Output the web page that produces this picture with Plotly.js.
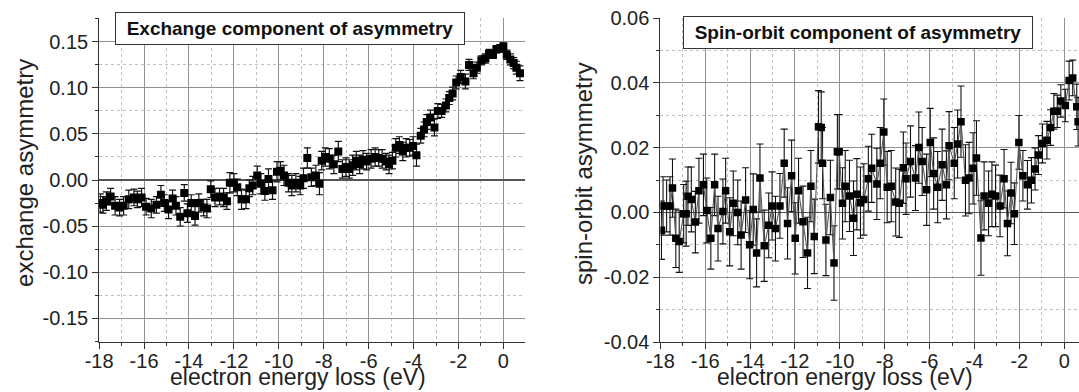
<!DOCTYPE html>
<html><head><meta charset="utf-8">
<script src="https://cdn.plot.ly/plotly-3.0.1.min.js"></script>
<style>html,body{margin:0;padding:0;background:#fff}</style>
</head><body><div id="chart" style="width:1079px;height:392px"></div>
<script>
// ---- Left panel: exchange component of asymmetry ----
const exchangeEnergy = [-17.95,-17.83,-17.68,-17.49,-17.29,-17.09,-16.91,-16.68,-16.45,-16.30,
 -16.11,-15.91,-15.68,-15.45,-15.25,-15.10,-14.91,-14.73,-14.58,-14.39,
 -14.21,-14.07,-13.90,-13.73,-13.56,-13.35,-13.20,-13.03,-12.84,-12.64,
 -12.46,-12.31,-12.18,-12.00,-11.85,-11.66,-11.46,-11.31,-11.16,-10.96,
 -10.80,-10.62,-10.46,-10.28,-10.08,-9.93,-9.77,-9.57,-9.42,-9.24,
 -9.05,-8.90,-8.73,-8.55,-8.35,-8.19,-8.09,-7.93,-7.75,-7.55,
 -7.35,-7.17,-7.01,-6.86,-6.71,-6.55,-6.40,-6.25,-6.09,-5.89,
 -5.71,-5.55,-5.40,-5.22,-5.09,-4.94,-4.79,-4.63,-4.48,-4.33,
 -4.17,-4.02,-3.87,-3.68,-3.53,-3.41,-3.25,-3.07,-2.92,-2.75,
 -2.56,-2.41,-2.26,-2.10,-1.90,-1.69,-1.53,-1.33,-1.18,-0.98,
 -0.80,-0.64,-0.46,-0.31,-0.15,0.00,0.15,0.31,0.46,0.58,
 0.74];
const exchangeAsym = [-0.025,-0.027,-0.023,-0.018,-0.028,-0.030,-0.028,-0.021,-0.019,-0.021,
 -0.019,-0.029,-0.031,-0.027,-0.016,-0.025,-0.032,-0.020,-0.028,-0.040,
 -0.014,-0.036,-0.025,-0.039,-0.025,-0.030,-0.031,-0.010,-0.019,-0.018,
 -0.019,-0.023,-0.003,-0.003,-0.008,-0.021,-0.021,-0.009,-0.006,0.005,
 -0.004,-0.012,0.001,-0.011,0.009,0.010,0.005,-0.003,-0.006,-0.003,
 -0.006,0.002,0.024,0.003,0.005,-0.004,0.021,0.025,0.023,0.017,
 0.031,0.012,0.014,0.012,0.016,0.021,0.017,0.022,0.020,0.023,
 0.025,0.024,0.023,0.020,0.017,0.021,0.035,0.038,0.031,0.035,
 0.035,0.037,0.027,0.048,0.055,0.063,0.068,0.057,0.075,0.075,
 0.081,0.089,0.094,0.106,0.112,0.107,0.125,0.116,0.122,0.130,
 0.132,0.137,0.136,0.142,0.143,0.145,0.136,0.131,0.127,0.122,
 0.116];
const exchangeErr = [0.010,0.009,0.010,0.009,0.010,0.009,0.010,0.010,0.009,0.009,
 0.010,0.009,0.010,0.009,0.010,0.009,0.010,0.009,0.010,0.010,
 0.009,0.010,0.009,0.010,0.010,0.009,0.010,0.009,0.010,0.009,
 0.010,0.009,0.011,0.010,0.009,0.011,0.010,0.009,0.010,0.010,
 0.011,0.010,0.011,0.010,0.011,0.010,0.011,0.010,0.011,0.010,
 0.010,0.011,0.011,0.010,0.011,0.012,0.010,0.010,0.011,0.010,
 0.011,0.010,0.010,0.010,0.011,0.010,0.010,0.010,0.009,0.010,
 0.010,0.009,0.010,0.009,0.010,0.009,0.010,0.009,0.010,0.010,
 0.009,0.010,0.012,0.008,0.008,0.008,0.008,0.009,0.008,0.007,
 0.007,0.007,0.007,0.007,0.007,0.008,0.006,0.006,0.006,0.005,
 0.005,0.005,0.004,0.004,0.004,0.004,0.005,0.006,0.006,0.007,
 0.008];

// ---- Right panel: spin-orbit component of asymmetry ----
const soEnergy = [-17.95,-17.88,-17.72,-17.57,-17.46,-17.31,-17.16,-16.96,-16.85,-16.77,
 -16.62,-16.44,-16.28,-16.08,-15.93,-15.75,-15.58,-15.43,-15.21,-15.09,
 -14.91,-14.75,-14.55,-14.40,-14.20,-14.02,-13.86,-13.71,-13.56,-13.37,
 -13.17,-13.02,-12.87,-12.67,-12.48,-12.33,-12.15,-11.99,-11.84,-11.64,
 -11.44,-11.29,-11.14,-10.95,-10.83,-10.77,-10.62,-10.42,-10.26,-10.11,
 -10.03,-9.88,-9.76,-9.57,-9.39,-9.24,-9.08,-8.93,-8.73,-8.58,
 -8.35,-8.20,-8.04,-7.89,-7.71,-7.51,-7.35,-7.17,-7.05,-6.85,
 -6.63,-6.48,-6.33,-6.13,-5.97,-5.82,-5.64,-5.44,-5.25,-5.13,
 -4.90,-4.75,-4.60,-4.40,-4.24,-4.06,-3.91,-3.71,-3.57,-3.37,
 -3.22,-3.06,-2.86,-2.68,-2.53,-2.37,-2.22,-2.02,-1.84,-1.64,
 -1.46,-1.30,-1.15,-0.97,-0.77,-0.61,-0.46,-0.31,-0.15,0.05,
 0.22,0.38,0.56,0.62];
const soAsym = [-0.0055,0.0020,0.0020,0.0020,0.0075,-0.0080,-0.0090,-0.0004,-0.0004,0.0050,
 0.0040,-0.0030,0.0067,0.0085,0.0006,-0.0080,0.0085,-0.0050,0.0003,0.0067,
 -0.0060,0.0028,0.0000,-0.0070,0.0038,-0.0100,0.0009,-0.0125,0.0106,-0.0103,
 -0.0040,0.0020,-0.0050,0.0020,0.0152,-0.0034,0.0113,-0.0080,0.0067,-0.0029,
 -0.0125,0.0081,-0.0074,0.0264,0.0262,0.0152,-0.0085,0.0046,-0.0156,0.0187,
 0.0187,0.0028,0.0081,0.0051,-0.0018,0.0056,0.0030,0.0040,0.0104,0.0136,
 0.0088,0.0152,0.0248,0.0078,0.0081,0.0032,0.0028,0.0138,0.0104,0.0157,
 0.0106,0.0200,0.0157,0.0070,0.0216,0.0120,0.0078,0.0147,0.0085,0.0206,
 0.0152,0.0211,0.0280,0.0099,0.0106,0.0136,0.0168,-0.0079,0.0051,0.0028,
 0.0056,0.0051,0.0020,0.0104,-0.0034,0.0060,-0.0004,0.0216,0.0113,0.0085,
 0.0099,0.0134,0.0177,0.0213,0.0223,0.0262,0.0312,0.0312,0.0344,0.0330,
 0.0407,0.0415,0.0326,0.0280];
const soErr = [0.009,0.009,0.008,0.009,0.009,0.009,0.0095,0.009,0.010,0.009,
 0.010,0.0095,0.010,0.0095,0.010,0.0095,0.0095,0.010,0.010,0.010,
 0.0105,0.010,0.010,0.0105,0.010,0.0105,0.011,0.0105,0.0105,0.011,
 0.010,0.0105,0.010,0.010,0.0105,0.011,0.011,0.011,0.010,0.011,
 0.011,0.011,0.0115,0.0112,0.011,0.011,0.011,0.0115,0.0115,0.0115,
 0.0115,0.011,0.011,0.011,0.0115,0.011,0.011,0.011,0.010,0.0105,
 0.011,0.011,0.0102,0.011,0.011,0.0105,0.0105,0.011,0.011,0.011,
 0.010,0.011,0.0105,0.011,0.0105,0.011,0.011,0.011,0.0105,0.0105,
 0.011,0.0105,0.011,0.011,0.011,0.011,0.0115,0.0115,0.0105,0.010,
 0.010,0.0095,0.0095,0.009,0.010,0.0095,0.0095,0.0083,0.0078,0.0075,
 0.007,0.0065,0.006,0.006,0.0058,0.0055,0.0055,0.005,0.005,0.005,
 0.006,0.0055,0.007,0.0075];

// ---- tick labels ----
const xTickVals = [-18,-16,-14,-12,-10,-8,-6,-4,-2,0];
const xTickText = ['-18','-16','-14','-12','-10','-8','-6','-4','-2','0'];
const exTickVals = [-0.15,-0.10,-0.05,0,0.05,0.10,0.15];
const exTickText = ['-0.15','-0.10','-0.05','0.00','0.05','0.10','0.15'];
const soTickVals = [-0.04,-0.02,0,0.02,0.04,0.06];
const soTickText = ['-0.04','-0.02','0.00','0.02','0.04','0.06'];

const FONT = 'Liberation Sans, Arial, sans-serif';
const tickFont = {family: FONT, size: 20, color: '#222'};

function xAxis(domain, range, anchor) {
  return {domain, range, anchor, tickmode: 'array', tickvals: xTickVals, ticktext: xTickText,
    showgrid: true, gridcolor: '#929292', gridwidth: 1, zeroline: false,
    showline: true, linecolor: '#333', linewidth: 1, ticks: 'outside', ticklen: 6, tickcolor: '#333',
    tickfont: tickFont, ticklabelstandoff: -5, fixedrange: true,
    minor: {tickmode: 'linear', tick0: -18, dtick: 1, ticks: 'outside', ticklen: 3, tickcolor: '#333',
            showgrid: true, gridcolor: '#c0c0c0', griddash: 'dot', gridwidth: 1}};
}
function yAxis(range, vals, text, minorStep, anchor) {
  return {domain: [0, 1], range, anchor, tickmode: 'array', tickvals: vals, ticktext: text,
    showgrid: true, gridcolor: '#929292', gridwidth: 1,
    zeroline: true, zerolinecolor: '#555', zerolinewidth: 1.3,
    showline: true, linecolor: '#333', linewidth: 1, ticks: 'outside', ticklen: 6, tickcolor: '#333',
    tickfont: tickFont, fixedrange: true,
    minor: {tickmode: 'linear', tick0: 0, dtick: minorStep, ticks: 'outside', ticklen: 3, tickcolor: '#333',
            showgrid: true, gridcolor: '#c0c0c0', griddash: 'dot', gridwidth: 1}};
}

const traces = [
  {x: exchangeEnergy, y: exchangeAsym, xaxis: 'x', yaxis: 'y', type: 'scatter', mode: 'markers',
   marker: {symbol: 'square', size: 8, color: '#000'},
   error_y: {type: 'data', array: exchangeErr, visible: true, color: '#111', thickness: 1.2, width: 3.5},
   hoverinfo: 'skip'},
  {x: soEnergy, y: soAsym, xaxis: 'x2', yaxis: 'y2', type: 'scatter', mode: 'lines+markers',
   line: {color: '#555', width: 1.1},
   marker: {symbol: 'square', size: 7.5, color: '#000'},
   error_y: {type: 'data', array: soErr, visible: true, color: '#111', thickness: 1.1, width: 3.5},
   hoverinfo: 'skip'}
];

const titleFont = {family: FONT, size: 24, color: '#222'};
const xTitleFont = {family: FONT, size: 23, color: '#222'};
const boxFont = {family: FONT, size: 19, color: '#111'};

const layout = {
  width: 1079, height: 392,
  margin: {l: 0, r: 0, t: 18, b: 50},
  paper_bgcolor: '#fff', plot_bgcolor: '#fff',
  showlegend: false,
  xaxis: xAxis([0.0919, 0.4867], [-18, 0.97], 'y'),
  yaxis: yAxis([-0.176, 0.176], exTickVals, exTickText, 0.025, 'x'),
  xaxis2: xAxis([0.612, 1.0], [-18, 0.66], 'y2'),
  yaxis2: yAxis([-0.04, 0.06], soTickVals, soTickText, 0.01, 'x2'),
  annotations: [
    {text: '<b>Exchange component of asymmetry</b>', xref: 'paper', yref: 'paper', x: 0.2688, y: 0.968,
     xanchor: 'center', yanchor: 'middle', showarrow: false, font: boxFont,
     bordercolor: '#333', borderwidth: 1, bgcolor: '#fff', borderpad: 3, width: 342, height: 25},
    {text: '<b>Spin-orbit component of asymmetry</b>', xref: 'paper', yref: 'paper', x: 0.7949, y: 0.956,
     xanchor: 'center', yanchor: 'middle', showarrow: false, font: boxFont,
     bordercolor: '#333', borderwidth: 1, bgcolor: '#fff', borderpad: 3, width: 342, height: 25},
    {text: 'electron energy loss (eV)', xref: 'paper', yref: 'paper', x: 0.2762, y: -0.1545,
     xanchor: 'center', yanchor: 'bottom', showarrow: false, font: xTitleFont},
    {text: 'electron energy loss (eV)', xref: 'paper', yref: 'paper', x: 0.7831, y: -0.1545,
     xanchor: 'center', yanchor: 'bottom', showarrow: false, font: xTitleFont},
    {text: 'exchange asymmetry', xref: 'paper', yref: 'paper', x: 0.0222, y: 0.5216, textangle: -90,
     xanchor: 'center', yanchor: 'middle', showarrow: false, font: titleFont},
    {text: 'spin-orbit asymmetry', xref: 'paper', yref: 'paper', x: 0.5403, y: 0.5216, textangle: -90,
     xanchor: 'center', yanchor: 'middle', showarrow: false, font: titleFont}
  ]
};

Plotly.newPlot('chart', traces, layout, {displayModeBar: false, staticPlot: true});
</script></body></html>
